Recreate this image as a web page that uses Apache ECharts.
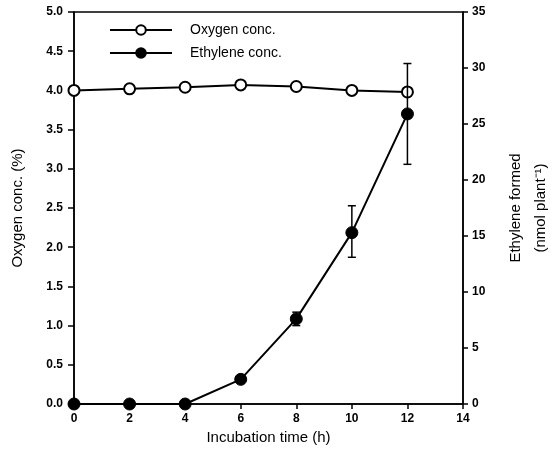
<!DOCTYPE html>
<html>
<head>
<meta charset="utf-8">
<script src="https://cdn.jsdelivr.net/npm/echarts@6/dist/echarts.min.js"></script>
<style>html,body{margin:0;padding:0;background:#fff}#c{width:556px;height:457px}</style>
</head>
<body>
<div id="c"></div>
<script>
var hours = [0, 2, 4, 6, 8, 10, 12];
var oxygen = [4.0, 4.02, 4.04, 4.07, 4.05, 4.0, 3.98];
var ethylene = [0, 0, 0, 2.2, 7.6, 15.3, 25.9];
var ethyleneLow = [0, 0, 0, 2.2, 7.0, 13.1, 21.4];
var ethyleneHigh = [0, 0, 0, 2.2, 8.2, 17.7, 30.4];
var errorHours = [8, 10, 12];

var font = 'Liberation Sans, Arial, sans-serif';
var chart = echarts.init(document.getElementById('c'));

var errData = [];
hours.forEach(function (h, i) {
  if (errorHours.indexOf(h) >= 0) errData.push([h, ethyleneLow[i], ethyleneHigh[i]]);
});

chart.setOption({
  animation: false,
  backgroundColor: '#fff',
  grid: { left: 74, right: 93, top: 12, bottom: 53, outerBoundsMode: 'none', containLabel: false,
    show: true, borderColor: '#000', borderWidth: 1.5, backgroundColor: 'transparent' },
  legend: {
    left: 104, top: 18, orient: 'vertical', itemWidth: 62, itemHeight: 12, itemGap: 9,
    textStyle: { fontFamily: font, fontSize: 14, color: '#000', padding: [0, 0, 0, 13] },
    data: ['Oxygen conc.', 'Ethylene conc.']
  },
  xAxis: {
    type: 'value', min: 0, max: 14, interval: 2,
    name: 'Incubation time (h)', nameLocation: 'middle', nameGap: 26,
    nameTextStyle: { fontFamily: font, fontSize: 15, color: '#000' },
    axisLine: { lineStyle: { color: '#000', width: 1.5 } },
    axisTick: { inside: false, length: 5, lineStyle: { color: '#000', width: 1.5 } },
    axisLabel: { fontFamily: font, fontSize: 12, fontWeight: 'bold', color: '#000', margin: 9 },
    splitLine: { show: false }
  },
  yAxis: [{
    type: 'value', min: 0, max: 5, interval: 0.5, position: 'left',
    name: 'Oxygen conc. (%)', nameLocation: 'middle', nameGap: 49, nameRotate: 90,
    nameTextStyle: { fontFamily: font, fontSize: 15, color: '#000' },
    axisLine: { show: true, lineStyle: { color: '#000', width: 1.5 } },
    axisTick: { show: true, length: 6, lineStyle: { color: '#000', width: 1.5 } },
    axisLabel: { fontFamily: font, fontSize: 12, fontWeight: 'bold', color: '#000', margin: 11,
      formatter: function (v) { return v.toFixed(1); } },
    splitLine: { show: false }
  }, {
    type: 'value', min: 0, max: 35, interval: 5, position: 'right',
    name: 'Ethylene formed\n(nmol plant\u207B\u00B9)', nameLocation: 'middle', nameGap: 40, nameRotate: 90,
    nameTextStyle: { fontFamily: font, fontSize: 15, color: '#000', lineHeight: 25 },
    axisLine: { show: true, lineStyle: { color: '#000', width: 1.5 } },
    axisTick: { show: true, length: 5, lineStyle: { color: '#000', width: 1.5 } },
    axisLabel: { fontFamily: font, fontSize: 12, fontWeight: 'bold', color: '#000', margin: 9 },
    splitLine: { show: false }
  }],
  series: [{
    name: 'Oxygen conc.', type: 'line', yAxisIndex: 0,
    data: hours.map(function (h, i) { return [h, oxygen[i]]; }),
    symbol: 'circle', symbolSize: 11, showAllSymbol: true,
    lineStyle: { color: '#000', width: 2 },
    itemStyle: { color: '#fff', borderColor: '#000', borderWidth: 2 },
    z: 3
  }, {
    name: 'Ethylene conc.', type: 'line', yAxisIndex: 1,
    data: hours.map(function (h, i) { return [h, ethylene[i]]; }),
    symbol: 'circle', symbolSize: 12, showAllSymbol: true,
    lineStyle: { color: '#000', width: 2 },
    itemStyle: { color: '#000', borderColor: '#000', borderWidth: 1 },
    z: 4
  }, {
    type: 'custom', yAxisIndex: 1, silent: true, z: 5,
    data: errData,
    renderItem: function (params, api) {
      var x = api.value(0);
      var lo = api.coord([x, api.value(1)]);
      var hi = api.coord([x, api.value(2)]);
      var w = 4;
      var st = { stroke: '#000', lineWidth: 1.5 };
      return { type: 'group', children: [
        { type: 'line', shape: { x1: lo[0], y1: lo[1], x2: hi[0], y2: hi[1] }, style: st },
        { type: 'line', shape: { x1: lo[0] - w, y1: lo[1], x2: lo[0] + w, y2: lo[1] }, style: st },
        { type: 'line', shape: { x1: hi[0] - w, y1: hi[1], x2: hi[0] + w, y2: hi[1] }, style: st }
      ] };
    }
  }]
});
</script>
</body>
</html>
